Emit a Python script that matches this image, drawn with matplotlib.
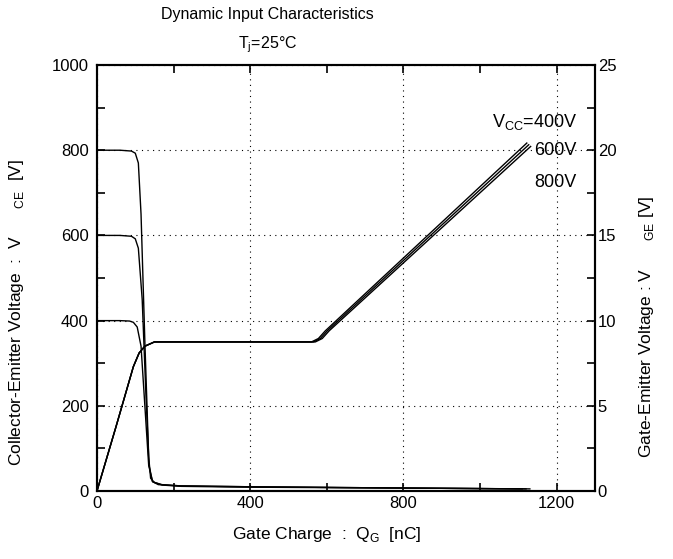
import numpy as np
import matplotlib
matplotlib.use("Agg")
import matplotlib.pyplot as plt
from matplotlib.ticker import MultipleLocator

plt.rcParams['font.family'] = ['Liberation Sans', 'DejaVu Sans']
plt.rcParams['mathtext.fontset'] = 'custom'
plt.rcParams['mathtext.rm'] = 'Liberation Sans'
plt.rcParams['font.size'] = 12

# collector-emitter voltage curves (left axis, V)
qg_vce800 = [0, 60, 90, 100, 108, 115, 125, 135, 140, 150, 170, 220, 400, 800, 1130]
vce800 = [800, 800, 798, 793, 770, 650, 350, 80, 30, 20, 15, 12, 10, 7, 5]
qg_vce600 = [0, 60, 90, 100, 108, 118, 128, 136, 145, 160, 220, 400, 800, 1120]
vce600 = [600, 600, 598, 592, 570, 450, 220, 60, 22, 15, 12, 10, 7, 5]
qg_vce400 = [0, 60, 85, 95, 105, 115, 125, 135, 145, 170, 220, 400, 800, 1110]
vce400 = [400, 400, 399, 396, 385, 340, 200, 60, 22, 14, 11, 9, 7, 5]

# gate-emitter voltage curves (right axis, V)
qg_vge400 = [0, 50, 95, 110, 125, 150, 560, 578, 596, 1122]
vge400 = [0, 3.8, 7.3, 8.1, 8.5, 8.75, 8.75, 8.95, 9.4, 20.42]
qg_vge600 = [0, 50, 95, 110, 125, 150, 565, 583, 601, 1127]
vge600 = [0, 3.8, 7.3, 8.1, 8.5, 8.75, 8.75, 8.95, 9.4, 20.32]
qg_vge800 = [0, 50, 95, 110, 125, 150, 570, 588, 606, 1132]
vge800 = [0, 3.8, 7.3, 8.1, 8.5, 8.75, 8.75, 8.95, 9.4, 20.22]

fig = plt.figure(figsize=(6.73, 5.59), dpi=100)
ax = fig.add_axes([0.1441, 0.1216, 0.74, 0.7621])
ax2 = ax.twinx()

for x, y in [(qg_vce800, vce800), (qg_vce600, vce600), (qg_vce400, vce400)]:
    ax.plot(x, y, color='black', lw=1.0)
for x, y in [(qg_vge400, vge400), (qg_vge600, vge600), (qg_vge800, vge800)]:
    ax2.plot(x, y, color='black', lw=1.0)

ax.set_xlim(0, 1300)
ax.set_ylim(0, 1000)
ax2.set_ylim(0, 25)

ax.xaxis.set_major_locator(MultipleLocator(400))
ax.xaxis.set_minor_locator(MultipleLocator(200))
ax.yaxis.set_major_locator(MultipleLocator(200))
ax.yaxis.set_minor_locator(MultipleLocator(100))
ax2.yaxis.set_major_locator(MultipleLocator(5))
ax2.yaxis.set_minor_locator(MultipleLocator(2.5))

ax.tick_params(which='both', direction='in', length=6, width=1.2, top=True, labelsize=12)
ax.tick_params(axis='y', pad=6)
ax2.tick_params(which='both', direction='in', length=6, width=1.2, labelsize=12, pad=2)

for a in (ax, ax2):
    for s in a.spines.values():
        s.set_linewidth(1.5)

ax.grid(True, which='major', color='black', linestyle=(0, (1, 4)), linewidth=0.8)

ax.set_xlabel("Gate Charge  :  Q$_{\\mathregular{G}}$  [nC]", fontsize=12.5, labelpad=10)
ax.xaxis.set_label_coords(0.462, -0.08)
ax.set_ylabel("Collector-Emitter Voltage  :  V      $_{\\mathregular{CE}}$  [V]", fontsize=12.5)
ax.yaxis.set_label_coords(-0.143, 0.42)
ax2.set_ylabel("Gate-Emitter Voltage : V      $_{\\mathregular{GE}}$ [V]", fontsize=12.5)
ax2.yaxis.set_label_coords(1.085, 0.385)

fig.text(0.397, 0.974, "Dynamic Input Characteristics", ha='center', va='center', fontsize=11.5)
fig.text(0.397, 0.920, "T$_{\\mathregular{j}}$=25°C", ha='center', va='center', fontsize=11.5)

ax.text(1253, 866, "V$_{\\mathregular{CC}}$=400V", ha='right', va='center', fontsize=13)
ax.text(1253, 800, "600V", ha='right', va='center', fontsize=13)
ax.text(1253, 725, "800V", ha='right', va='center', fontsize=13)

fig.savefig("out.png", dpi=100)
